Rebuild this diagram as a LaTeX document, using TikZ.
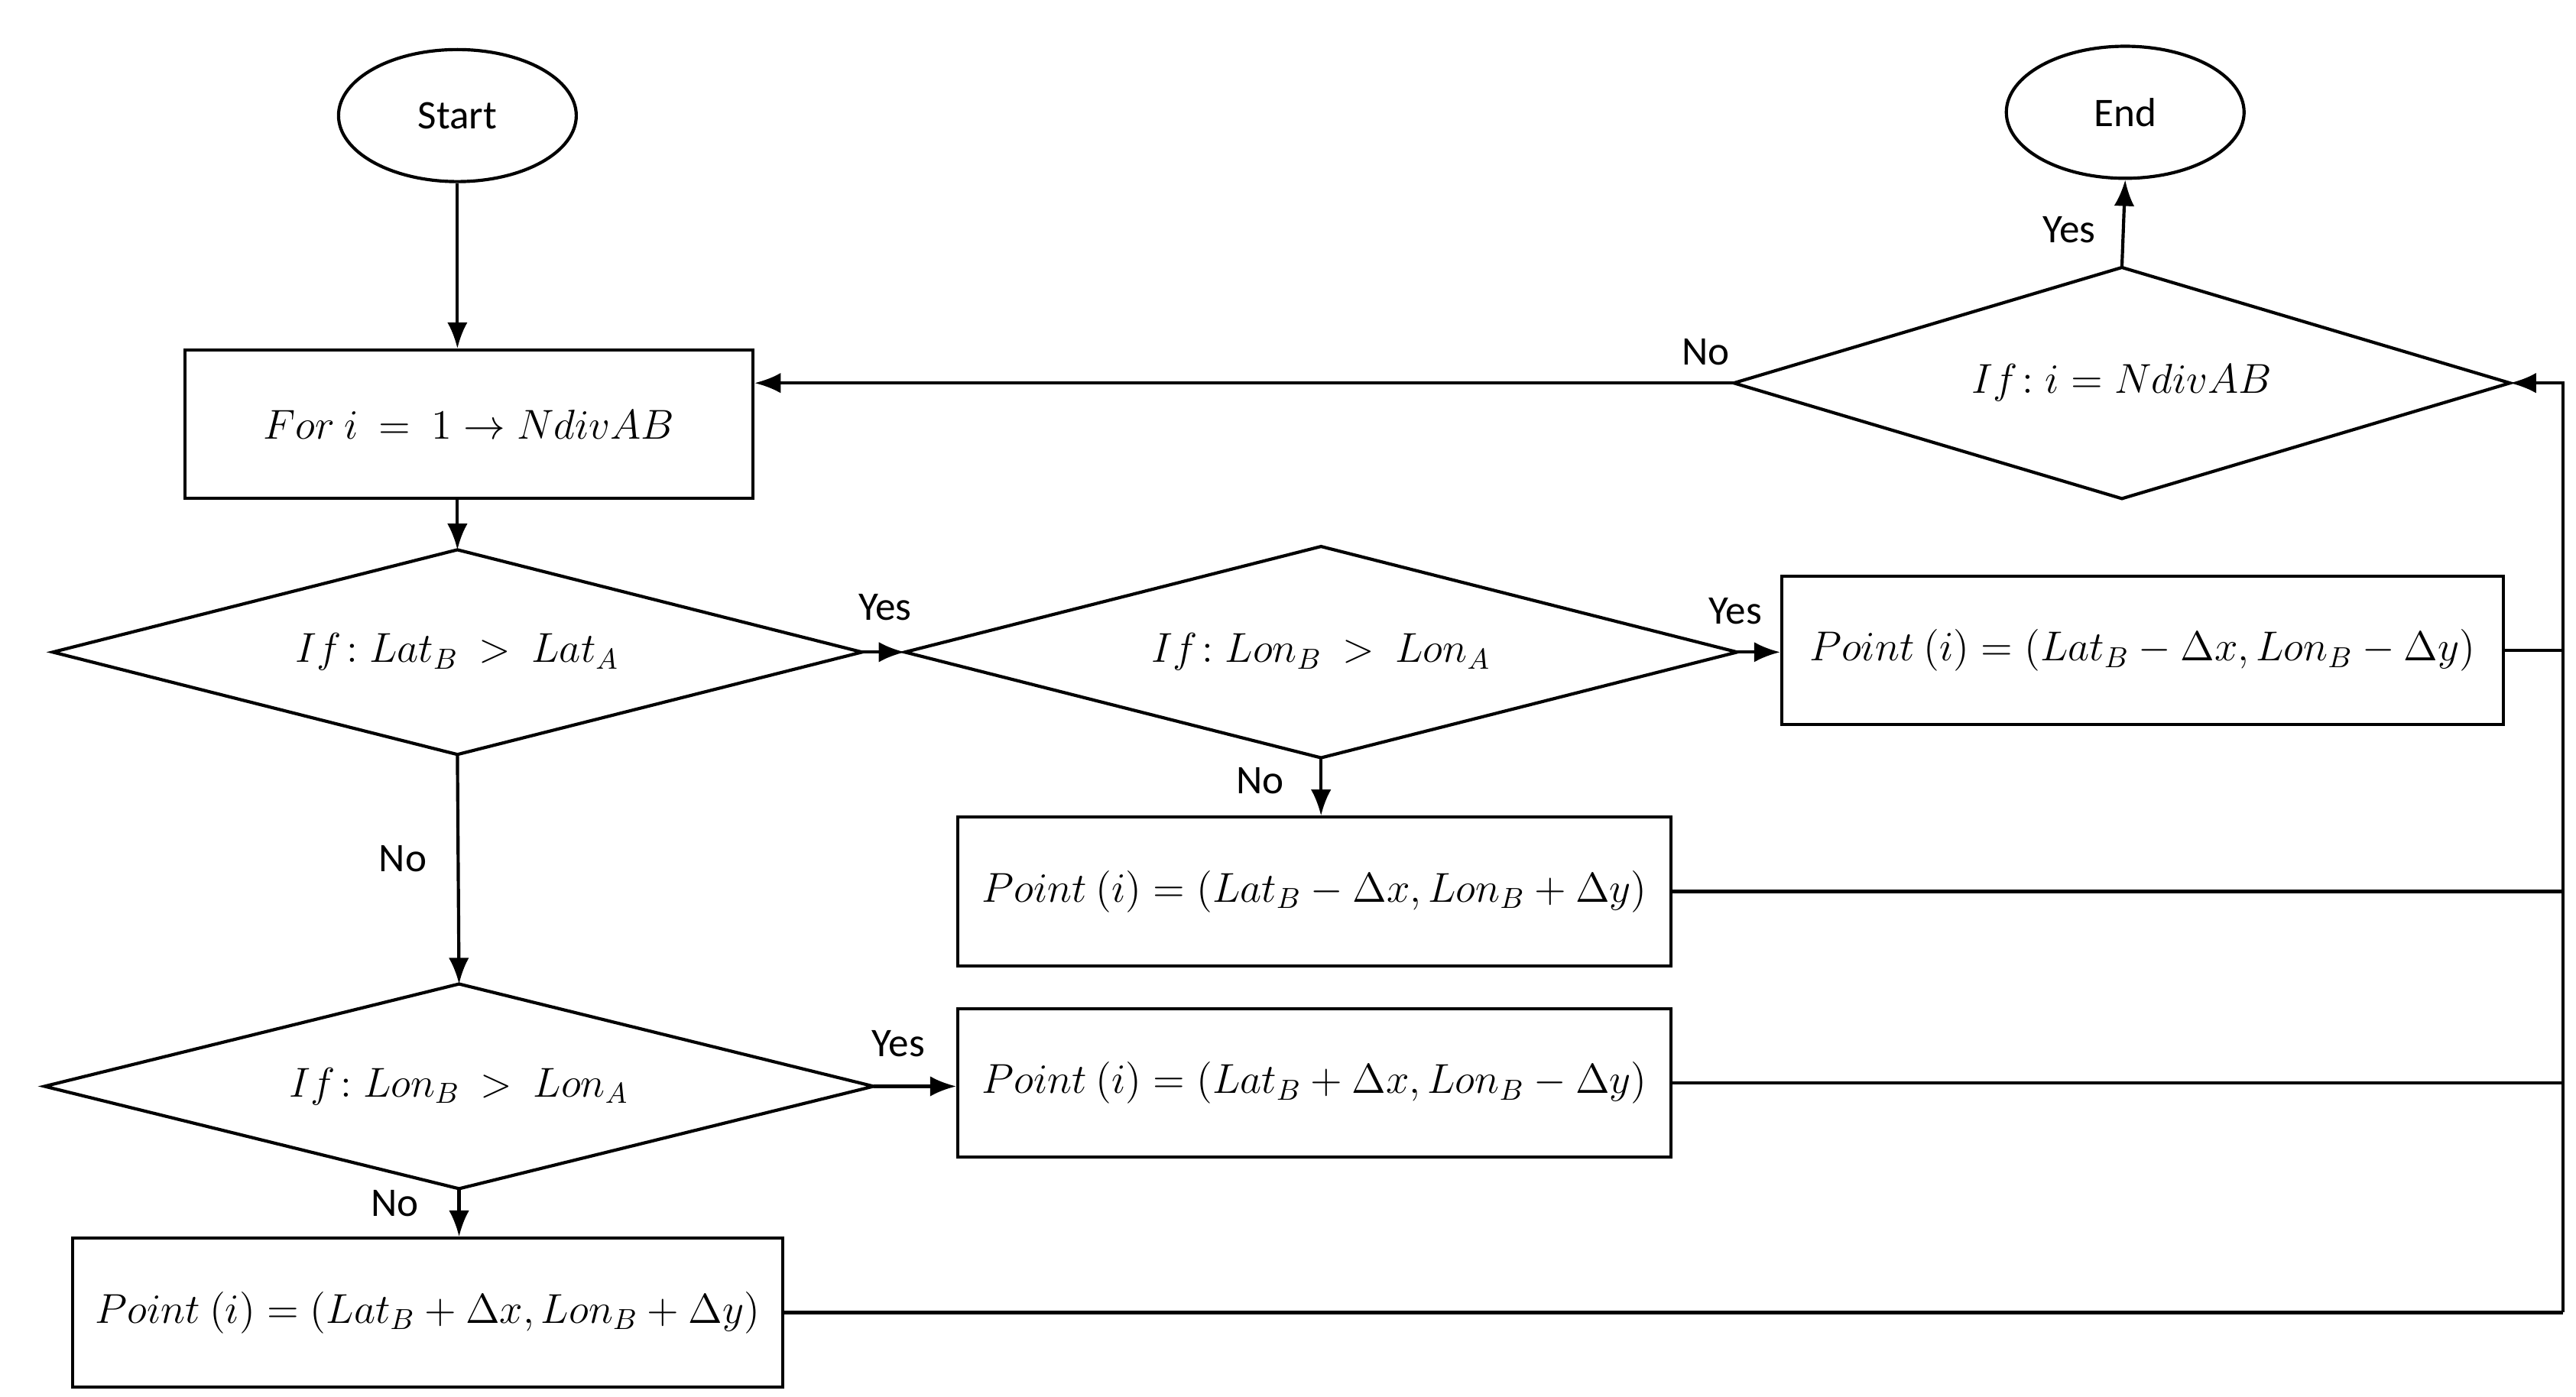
\documentclass[tikz,border=0pt]{standalone}
\usepackage{fontspec}
\setmainfont{Carlito}
\usetikzlibrary{shapes.geometric,arrows.meta}
\newcommand{\mydia}[6]{%
  \node[font=\fontsize{14}{16}\selectfont] (#1) at (#2,#3) {#6};
  \coordinate (#1w) at ({#2-#4},#3);
  \coordinate (#1e) at ({#2+#4},#3);
  \coordinate (#1n) at (#2,{#3-#5});
  \coordinate (#1s) at (#2,{#3+#5});
  \draw (#1w) -- (#1n) -- (#1e) -- (#1s) -- cycle;}
\begin{document}
\begin{tikzpicture}[x=0.02cm,y=-0.02cm,line width=1.1pt,
  box/.style={draw,rectangle,minimum height=1.8cm,inner sep=0pt,font=\fontsize{14}{16}\selectfont},
  term/.style={draw,ellipse,minimum width=2.88cm,minimum height=1.6cm,font=\fontsize{14}{16}\selectfont},
  lab/.style={font=\fontsize{14}{16}\selectfont},
  arr/.style={-{Latex[length=9pt,width=7pt]}}]
\useasboundingbox (0,0) rectangle (1560,846);
\node[term] (start) at (277,70) {Start};
\node[term] (end) at (1287,68) {End};
\node[box,minimum width=6.88cm] (for) at (284,257) {$For\ i\ =\ 1 \rightarrow NdivAB$};
\mydia{d1}{277}{395}{245}{62}{$If\!: Lat_B\ >\ Lat_A$}
\mydia{d2}{800}{395}{252}{64}{$If\!: Lon_B\ >\ Lon_A$}
\mydia{d3}{278}{658}{251}{62}{$If\!: Lon_B\ >\ Lon_A$}
\mydia{de}{1285}{232}{235}{70}{$If\!: i = NdivAB$}
\node[box,minimum width=8.74cm] (p1) at (1297.5,394) {$Point\ (i) = (Lat_B - \Delta x, Lon_B - \Delta y)$};
\node[box,minimum width=8.64cm] (p2) at (796,540) {$Point\ (i) = (Lat_B - \Delta x, Lon_B + \Delta y)$};
\node[box,minimum width=8.64cm] (p3) at (796,656) {$Point\ (i) = (Lat_B + \Delta x, Lon_B - \Delta y)$};
\node[box,minimum width=8.6cm] (p4) at (259,795) {$Point\ (i) = (Lat_B + \Delta x, Lon_B + \Delta y)$};
\coordinate (R) at (1552,232);
\draw[arr] (start) -- (start |- for.north);
\draw[arr] (for.south -| d1n) -- (d1n);
\draw[arr] (d1e) -- (d2w);
\draw[arr] (d2e) -- (p1.west |- d2e);
\draw[arr] (d2s) -- (p2.north -| d2s);
\draw[arr] (d1s) -- (d3n);
\draw[arr] (d3e) -- (p3.west |- d3e);
\draw[arr] (d3s) -- (p4.north -| d3s);
\draw[arr] (dew) -- (for.east |- dew);
\draw[arr] (den) -- (end.south);
\draw[arr] (R |- p4.east) -- (R) -- (dee);
\draw (p1.east) -- (p1.east -| R);
\draw (p2.east) -- (p2.east -| R);
\draw (p3.east) -- (p3.east -| R);
\draw (p4.east) -- (p4.east -| R);
\node[lab] at (536,368) {Yes};
\node[lab] at (1051,370) {Yes};
\node[lab] at (763,473) {No};
\node[lab] at (244,520) {No};
\node[lab] at (544,632) {Yes};
\node[lab] at (239,729) {No};
\node[lab] at (1033,213) {No};
\node[lab] at (1253,139) {Yes};
\end{tikzpicture}
\end{document}
